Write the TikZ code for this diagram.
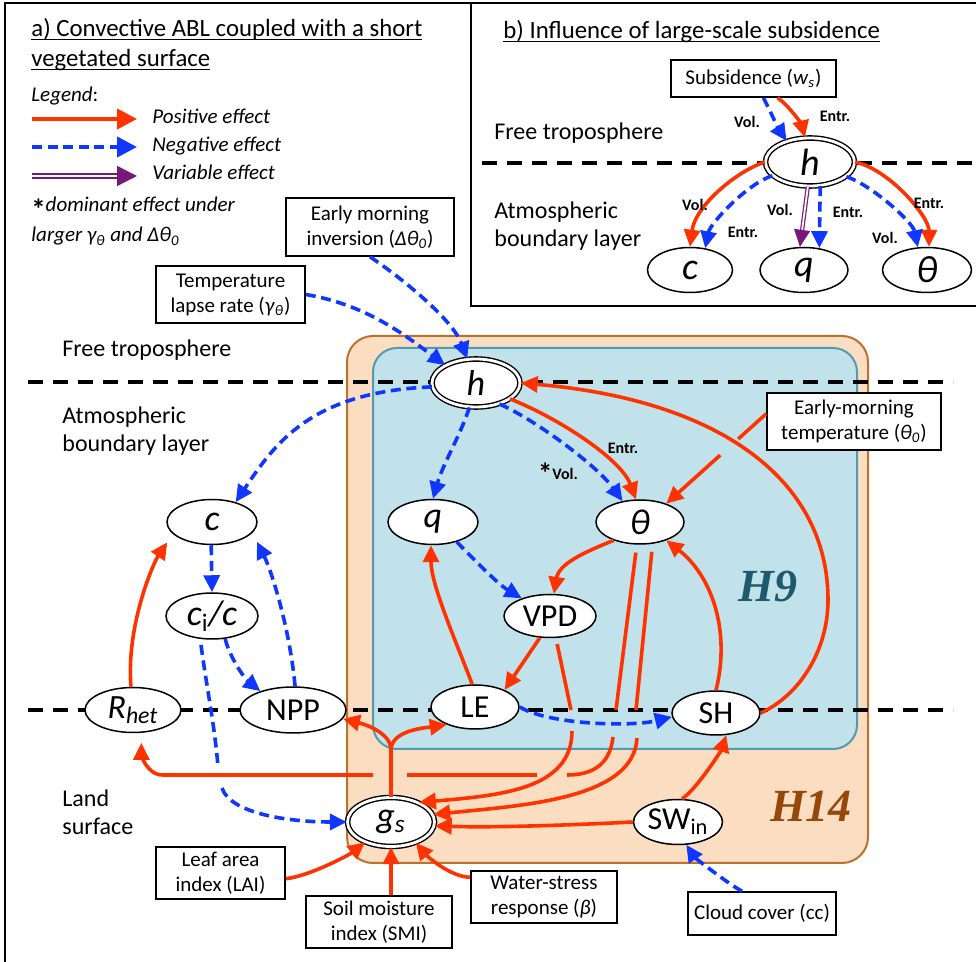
\documentclass[tikz,border=0pt]{standalone}
\usepackage{fontspec}
\setmainfont{Carlito}
\newfontfamily\hfont{Liberation Serif}
\usetikzlibrary{shapes.geometric, arrows.meta, backgrounds, calc}

\definecolor{effred}{RGB}{255,51,0}
\definecolor{effblue}{RGB}{15,55,255}
\definecolor{effpurple}{RGB}{120,25,120}
\definecolor{hfourteen}{RGB}{251,221,193}
\definecolor{hfourteenline}{RGB}{185,115,45}
\definecolor{hnine}{RGB}{193,226,234}
\definecolor{hnineline}{RGB}{80,155,175}
\definecolor{hninetext}{RGB}{30,90,110}
\definecolor{hfourteentext}{RGB}{150,72,10}

\begin{document}
\begin{tikzpicture}[x=0.5pt, y=-0.5pt,
  quantity/.style={ellipse, draw, fill=white, line width=0.75pt, inner sep=0pt,
    minimum width=44pt, minimum height=22pt, font=\fontsize{16}{18}\selectfont},
  symbol/.style={font=\fontsize{18}{20}\selectfont\itshape},
  keyvar/.style={quantity, double, double distance=1.4pt, line width=0.7pt},
  driver/.style={draw, fill=white, line width=0.8pt, align=center, inner sep=1pt,
    font=\fontsize{10.5}{12.5}\selectfont},
  zone/.style={anchor=west, align=left, inner sep=0pt, font=\fontsize{12}{14}\selectfont},
  lbl/.style={inner sep=0pt, font=\bfseries\fontsize{8}{9}\selectfont},
  effecttip/.style={-{Triangle[length=8.5pt, width=8pt]}},
  legendtip/.style={line width=2pt, -{Triangle[length=10pt, width=10pt]}},
  posline/.style={draw=effred, line width=1.8pt},
  negline/.style={draw=effblue, line width=1.8pt, dash pattern=on 5pt off 2.8pt},
  posfx/.style={posline, effecttip},
  negfx/.style={negline, effecttip},
  varfx/.style={draw=effpurple, line width=0.6pt, double=white, double distance=0.9pt, effecttip},
  boundary/.style={draw=black, line width=2pt, dash pattern=on 7.5pt off 5pt},
  ]
  \useasboundingbox (0,0) rectangle (976,962);

  %% *** Titles and legend ***
  \node[anchor=base west, inner sep=0pt, font=\fontsize{12.4}{14}\selectfont] (titleA1) at (31,37)
    {\underline{\smash{a) Convective ABL coupled with a short}}};
  \node[anchor=base west, inner sep=0pt, font=\fontsize{12.4}{14}\selectfont] (titleA2) at (31,67)
    {\underline{\smash{vegetated surface}}};
  \node[anchor=base west, inner sep=0pt, font=\fontsize{12.4}{14}\selectfont] (titleB) at (503,39)
    {\underline{\smash{b) Influence of large-scale subsidence}}};
  \node[anchor=base west, inner sep=0pt, font=\fontsize{10.5}{12}\selectfont] (legend) at (31,102) {\textit{Legend}:};
  \node[anchor=base west, inner sep=0pt, font=\fontsize{10.5}{12}\selectfont\itshape] (legpos) at (152,124) {Positive effect};
  \node[anchor=base west, inner sep=0pt, font=\fontsize{10.5}{12}\selectfont\itshape] (legneg) at (152,152) {Negative effect};
  \node[anchor=base west, inner sep=0pt, font=\fontsize{10.5}{12}\selectfont\itshape] (legvar) at (152,180) {Variable effect};
  \node[anchor=base west, inner sep=0pt, font=\fontsize{10.5}{12}\selectfont] (legstar1) at (31,212)
    {\smash{\raisebox{-4pt}{\bfseries\Large *}}\textit{dominant effect under}};
  \node[anchor=base west, inner sep=0pt, font=\fontsize{10.5}{12}\selectfont] (legstar2) at (31,242)
    {\textit{larger γ\textsubscript{θ} and Δθ\textsubscript{0}}};
  \draw[posfx, legendtip] (32,119) -- (137,119);
  \draw[negfx, legendtip] (32,147) -- (137,147);
  \draw[varfx, legendtip, line width=0.7pt, double distance=1.2pt] (32,176) -- (137,176);

  %% *** Panel b ***
  \node[zone] (bfree) at (494,133) {Free troposphere};
  \node[zone] (babl) at (494,226) {Atmospheric\\boundary layer};
  \node[driver, minimum width=82.5pt, minimum height=18.5pt] (bsub) at (753.5,78.5)
    {Subsidence (\textit{w}\textsubscript{\textit{s}})};
  \node[keyvar, symbol, font=\fontsize{19}{21}\selectfont\itshape, minimum width=44.5pt, minimum height=24pt] (bh) at (810,162) {h};
  \node[quantity, symbol, font=\fontsize{19}{21}\selectfont\itshape, minimum width=42.5pt, minimum height=22.5pt] (bc) at (690,270) {c};
  \node[quantity, symbol, font=\fontsize{19}{21}\selectfont\itshape, minimum width=44pt, minimum height=22.5pt] (bq) at (804,270) {q};
  \node[quantity, symbol, font=\fontsize{19}{21}\selectfont\itshape, minimum width=44.5pt, minimum height=22.5pt] (bth) at (927,270) {θ};

  \draw[negfx] ([xshift=5pt]bsub.south) .. controls +(5,10) and +(-8,-12) .. (bh.138);
  \draw[posfx] ([xshift=12pt]bsub.south) .. controls +(12,8) and +(-3,-12) .. (bh.102);
  \draw[posfx] (bh.west) .. controls +(-30,10) and +(5,-40) .. (bc.north);
  \draw[negfx] (bh.200) .. controls +(-25,8) and +(5,-25) .. (bc.55);
  \draw[varfx] (bh.265) -- (bq.100);
  \draw[negfx] (bh.293) -- (bq.55);
  \draw[posfx] (bh.east) .. controls +(35,8) and +(0,-30) .. (bth.85);
  \draw[negfx] (bh.338) .. controls +(25,8) and +(-5,-25) .. (bth.112);

  \node[lbl] at (747,122) {Vol.};
  \node[lbl] at (835,116) {Entr.};
  \node[lbl] at (695,205) {Vol.};
  \node[lbl] at (743,232) {Entr.};
  \node[lbl] at (780,210) {Vol.};
  \node[lbl] at (848,212) {Entr.};
  \node[lbl] at (929,203) {Entr.};
  \node[lbl] at (885,238) {Vol.};

  %% *** Panel a: layers ***
  \node[zone] (afree) at (62,350) {Free troposphere};
  \node[zone] (aabl) at (62,431) {Atmospheric\\boundary layer};
  \node[zone] (aland) at (62,812) {Land\\surface};

  %% *** Panel a: drivers ***
  \node[driver, minimum width=84pt, minimum height=29pt] (inv) at (370,227)
    {Early morning\\inversion (\textit{Δθ}\textsubscript{\textit{0}})};
  \node[driver, minimum width=74.5pt, minimum height=28.5pt] (tlr) at (230.5,294.5)
    {Temperature\\lapse rate (\textit{γ}\textsubscript{\textit{θ}})};
  \node[driver, minimum width=87pt, minimum height=28.5pt] (emt) at (854,421.5)
    {Early-morning\\temperature (\textit{θ}\textsubscript{\textit{0}})};
  \node[driver, minimum width=64.5pt, minimum height=26pt] (lai) at (220.5,873) {Leaf area\\index (LAI)};
  \node[driver, minimum width=73pt, minimum height=26pt] (smi) at (379,922) {Soil moisture\\index (SMI)};
  \node[driver, minimum width=73pt, minimum height=26pt] (wsr) at (544,897) {Water-stress\\response (\textit{β})};
  \node[driver, minimum width=74pt, minimum height=21.5pt] (cc) at (762,913.5) {Cloud cover (cc)};

  %% *** Panel a: quantities ***
  \node[keyvar, symbol, minimum width=44pt, minimum height=24pt] (h) at (476,383) {h};
  \node[quantity, symbol, minimum width=45pt, minimum height=22.5pt] (c) at (212,522) {c};
  \node[quantity, symbol, minimum width=45pt, minimum height=22.5pt] (q) at (433,522) {q};
  \node[quantity, symbol] (th) at (640,522) {θ};
  \node[quantity, minimum width=46pt, minimum height=21.5pt] (VPD) at (550,616) {VPD};
  \node[quantity] (LE) at (475,707) {LE};
  \node[quantity] (SH) at (716,713) {SH};
  \node[quantity, minimum width=53pt, minimum height=23pt] (NPP) at (293,710) {NPP};
  \node[quantity, symbol, font=\fontsize{17}{19}\selectfont\itshape, minimum width=48pt, minimum height=22.5pt] (Rhet) at (133,710)
    {R\textsubscript{het}};
  \node[quantity, symbol, minimum width=46pt, minimum height=23pt] (ci) at (212,616)
    {c\textsubscript{\upshape i}/c};
  \node[keyvar, symbol, minimum width=43.5pt, minimum height=24.5pt] (gs) at (391,822)
    {g\textsubscript{s}};
  \node[quantity, minimum width=44.5pt, minimum height=22.5pt] (SWin) at (678,822) {SW\textsubscript{in}};

  \node[font=\hfont\bfseries\itshape\fontsize{23}{23}\selectfont, text=hninetext, inner sep=0pt] (hnine) at (768,587) {H9};
  \node[font=\hfont\bfseries\itshape\fontsize{23}{23}\selectfont, text=hfourteentext, inner sep=0pt] (hfourteen) at (811,806) {H14};

  %% gaps where one connector passes another
  \coordinate (shbend) at (828,600);
  \coordinate (tgA) at (636,710);
  \coordinate (tgB) at (637,738);
  \coordinate (trA) at (616,710);
  \coordinate (trB) at (613,737);
  \coordinate (trC) at (567,775);
  \coordinate (trD) at (537,775);
  \coordinate (trE) at (407,775);
  \coordinate (trF) at (373,775);
  \coordinate (vgA) at (571,710);
  \coordinate (vgB) at (572,731);
  \coordinate (cgA) at (218,767);
  \coordinate (cgB) at (222,788);
  \coordinate (gsplit) at (391,750);
  \coordinate (emtgapA) at ($(emt.175)!0.28!(th.35)$);
  \coordinate (emtgapB) at ($(emt.175)!0.46!(th.35)$);

  %% *** Panel a: connectors ***
  \draw[negfx] (tlr.east) .. controls +(60,10) and +(-40,-30) .. (h.150);
  \draw[negfx] (inv.south) .. controls +(30,20) and +(-15,-40) .. (h.110);
  \draw[negfx] (h.185) .. controls +(-120,5) and +(40,-60) .. (c.40);
  \draw[negfx] (h.255) .. controls +(-10,30) and +(10,-35) .. (q.north);
  \draw[negfx] (h.318) .. controls +(35,15) and +(-25,-35) .. (th.130);
  \draw[posfx] (h.335) .. controls +(50,20) and +(-15,-40) .. (th.100);
  \node[lbl] at (558,474) {\smash{\raisebox{-2pt}{\Large *}}Vol.};
  \node[lbl] at (623,448) {Entr.};

  \draw[posfx] (SH.east) .. controls (800,695) and (828,650) .. (shbend)
    .. controls (828,480) and (720,400) .. (h.east);
  \draw[posline] (emt.175) -- (emtgapA);
  \draw[posfx] (emtgapB) -- (th.35);

  \draw[posfx] (th.215) .. controls +(-30,12) and +(5,-30) .. (VPD.80);
  \draw[negfx] (q.320) .. controls +(15,15) and +(-25,-15) .. (VPD.148);
  \draw[posfx] (VPD.245) -- (LE.30);
  \draw[posfx] (LE.97) .. controls +(-15,-40) and +(0,40) .. (q.265);
  \draw[negfx] (LE.east) .. controls +(30,18) and +(-40,10) .. (SH.185);
  \draw[posfx] (SWin.80) .. controls +(15,-10) and +(-5,15) .. (SH.295);
  \draw[posfx] (SH.north) .. controls +(15,-60) and +(45,35) .. (th.325);

  \draw[posline, shorten <=4pt] (th.262) -- (trA);
  \draw[posline] (trB) .. controls +(-3,28) and +(25,0) .. (trC);
  \draw[posline] (trD) -- (trE);
  \draw[posfx, shorten >=5pt] (trF) -- ++(-210,0) .. controls +(-18,0) and +(0,18) .. (Rhet.290);

  \draw[posline, shorten <=4pt] (th.300) -- (tgA);
  \draw[posfx] (tgB) .. controls +(-3,62) and +(86,-9) .. (gs.10);
  \draw[posline, shorten <=3pt] (VPD.285) -- (vgA);
  \draw[posfx] (vgB) .. controls +(0,59) and +(80,-7) .. (gs.35);
  \draw[posfx] (SWin.west) .. controls +(-60,3) and +(60,2) .. (gs.355);

  \draw[posline] (gs.north) -- (gsplit);
  \draw[posfx] (gsplit) .. controls +(0,-18) and +(20,5) .. (NPP.350);
  \draw[posfx] (gsplit) .. controls +(0,-20) and +(-20,3) .. (LE.212);

  \draw[negline, shorten <=3pt] (ci.243) .. controls +(5,40) and +(-3,-40) .. (cgA);
  \draw[negfx] (cgB) .. controls +(8,25) and +(-60,0) .. (gs.west);
  \draw[negfx] (c.268) -- (ci.north);
  \draw[negfx] (ci.300) .. controls +(5,20) and +(-15,-12) .. (NPP.150);
  \draw[negfx, shorten >=5pt] (NPP.85) .. controls +(-5,-55) and +(20,40) .. (c.345);
  \draw[posfx, shorten >=5pt] (Rhet.95) .. controls +(-5,-60) and +(-20,30) .. (c.197);

  \draw[posfx] (lai.355) .. controls +(25,-3) and +(-15,12) .. (gs.218);
  \draw[posfx] (gs.south |- smi.north) -- (gs.south);
  \draw[posfx] (wsr.165) .. controls +(-20,0) and +(10,12) .. (gs.320);
  \draw[negfx] ([xshift=-10pt]cc.north) .. controls +(-15,-8) and +(8,12) .. (SWin.290);

  %% *** Backgrounds, frames and layer boundaries ***
  \begin{pgfonlayer}{background}
    \draw[fill=hfourteen, draw=hfourteenline, line width=1pt, rounded corners=13pt] (347,336) rectangle (868,863);
    \draw[fill=hnine, draw=hnineline, line width=1pt, rounded corners=12pt] (373,348) rectangle (857,749);
    \draw[boundary] (482,163) -- (976,163);
    \draw[boundary] (28,382) -- (953,382);
    \draw[boundary] (28,710) -- (953,710);
    \draw[line width=0.8pt] (5,962) -- (5,3) -- (976,3);
    \draw[line width=0.8pt] (471,3) -- (471,306) -- (976,306);
  \end{pgfonlayer}
\end{tikzpicture}
\end{document}
